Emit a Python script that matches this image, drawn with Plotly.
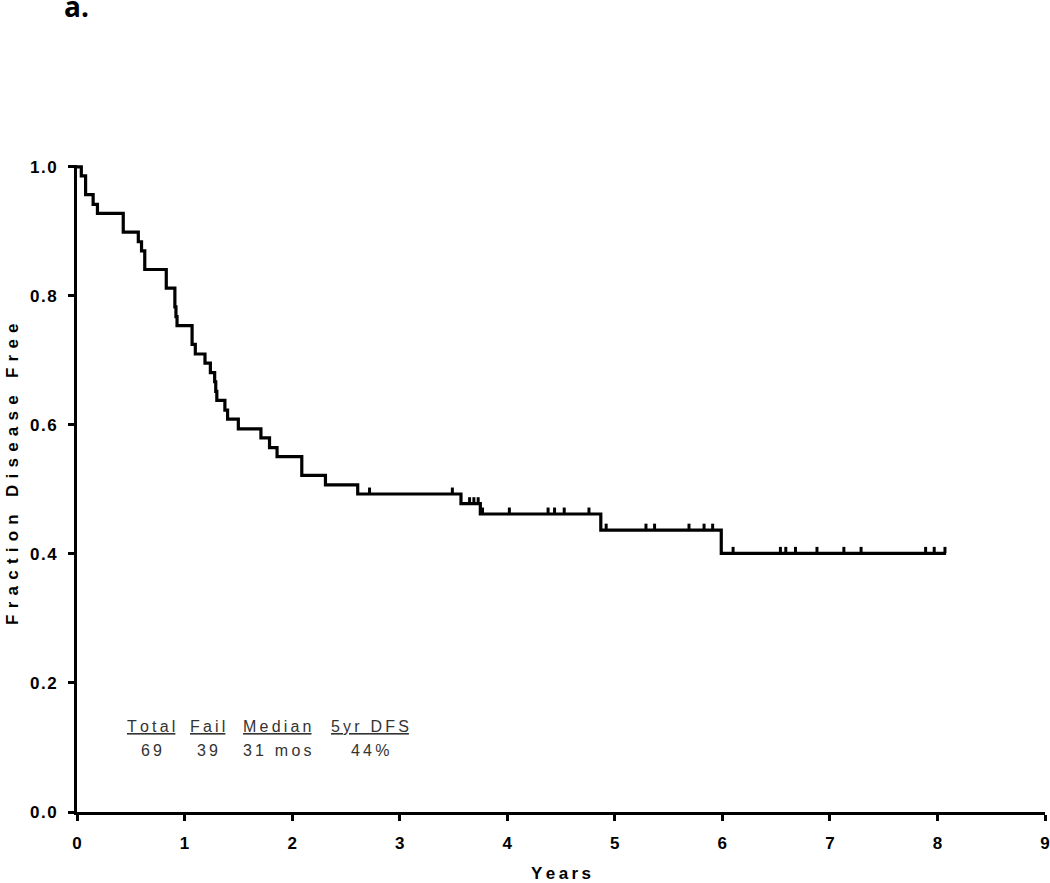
import bisect
import plotly.graph_objects as go

# Kaplan-Meier steps: time of each drop (years) and fraction disease free after it
step_times = [0.0, 0.04, 0.08, 0.15, 0.19, 0.43, 0.57, 0.60, 0.63, 0.83, 0.91, 0.92,
              0.93, 1.07, 1.10, 1.19, 1.24, 1.28, 1.29, 1.30, 1.375, 1.40, 1.50, 1.71,
              1.79, 1.86, 2.09, 2.31, 2.61, 3.57, 3.75, 4.87, 5.99]
step_surv = [1.0, 0.986, 0.957, 0.942, 0.928, 0.899, 0.884, 0.870, 0.841, 0.812, 0.783,
             0.768, 0.754, 0.725, 0.710, 0.696, 0.681, 0.667, 0.652, 0.638, 0.623, 0.609,
             0.594, 0.580, 0.565, 0.551, 0.522, 0.507, 0.493, 0.478, 0.462, 0.437, 0.401]
last_followup = 8.08

# censored observations (years)
censor_times = [2.72, 3.49, 3.65, 3.69, 3.73, 3.77, 4.02, 4.38, 4.44, 4.53, 4.76, 4.92,
                5.29, 5.37, 5.69, 5.83, 5.91, 6.10, 6.54, 6.59, 6.68, 6.88, 7.13, 7.29,
                7.89, 7.97, 8.07]

# summary table
table_headers = ["Total", "Fail", "Median", "5yr DFS"]
table_values = ["69", "39", "31 mos", "44%"]

x_ticks = list(range(0, 10))
y_ticks = [0.0, 0.2, 0.4, 0.6, 0.8, 1.0]
y_ticklabels = ["0.0", "0.2", "0.4", "0.6", "0.8", "1.0"]


def spaced(s, sep="\u2009"):
    # mimic the wide letter spacing of the original figure
    return sep.join(s)


def surv_at(t):
    i = bisect.bisect_right(step_times, t) - 1
    return step_surv[i]


W, H = 1050, 883
ML, MR, MT, MB = 77, 5, 165, 71
plot_w = W - ML - MR
plot_h = H - MT - MB

fig = go.Figure()

# survival curve
fig.add_trace(go.Scatter(x=step_times + [last_followup],
                         y=step_surv + [step_surv[-1]],
                         mode="lines", line=dict(color="black", width=3.2, shape="hv"),
                         showlegend=False, hoverinfo="skip"))

# censor ticks (short vertical marks sitting on the curve)
tick_h = 0.010
cx, cy = [], []
for t in censor_times:
    s = surv_at(t)
    cx += [t, t, None]
    cy += [s, s + tick_h, None]
fig.add_trace(go.Scatter(x=cx, y=cy, mode="lines",
                         line=dict(color="black", width=3),
                         showlegend=False, hoverinfo="skip"))

# summary table annotations
col_x = [0.69, 1.21, 1.86, 2.72]
table_font = dict(family="Liberation Sans, Arial", size=16, color="#333333")
for x, h, v in zip(col_x, table_headers, table_values):
    fig.add_annotation(x=x, y=0.133, xref="x", yref="y", showarrow=False,
                       text="<u>" + spaced(h) + "</u>", font=table_font)
    fig.add_annotation(x=x, y=0.095, xref="x", yref="y", showarrow=False,
                       text=spaced(v), font=table_font)

# panel label (sits right at the top edge, as in the original)
fig.add_annotation(x=(62 - ML) / plot_w, y=1 + (MT - 27) / plot_h,
                   xref="paper", yref="paper", showarrow=False,
                   text="<b>a.</b>", xanchor="left", yanchor="bottom",
                   font=dict(family="Open Sans, Liberation Sans", size=28, color="black"))

axis_font = dict(family="Liberation Sans, Arial", size=17, color="black")

# y-axis title, placed by hand (it sits a bit above the plot's centre in the original)
fig.add_annotation(x=(12 - ML) / plot_w, y=(H - MB - 474) / plot_h,
                   xref="paper", yref="paper", showarrow=False, textangle=-90,
                   xanchor="center", yanchor="middle",
                   text="<b>" + spaced("Fraction Disease Free", "\u2009\u200a\u200a") + "</b>",
                   font=axis_font)

fig.update_layout(
    width=W, height=H,
    margin=dict(l=ML, r=MR, t=MT, b=MB, autoexpand=False),
    plot_bgcolor="white", paper_bgcolor="white",
    xaxis=dict(range=[0, 9], tickvals=x_ticks, ticktext=["<b>%d</b>" % v for v in x_ticks],
               showline=True, linewidth=3, linecolor="black", showgrid=False, zeroline=False,
               ticks="outside", ticklen=6, tickwidth=3, tickcolor="black",
               tickfont=axis_font, ticklabelstandoff=8, automargin=False,
               ticklabeloverflow="allow",
               title=dict(text="<b>" + spaced("Years") + "</b>", font=axis_font, standoff=21)),
    yaxis=dict(range=[0, 1.003], tickvals=y_ticks,
               ticktext=["<b>" + spaced(v, "\u200a") + "</b>" for v in y_ticklabels],
               showline=True, linewidth=3, linecolor="black", showgrid=False, zeroline=False,
               ticks="outside", ticklen=6, tickwidth=3, tickcolor="black",
               tickfont=axis_font, ticklabelstandoff=8, automargin=False,
               ticklabeloverflow="allow"),
)

# drop the browser's default body margin so the 1050x883 figure fills the window
fig.write_html("out.html", config={"displayModeBar": False},
               post_script="document.body.style.margin='0';"
                           "document.documentElement.style.overflow='hidden';")
